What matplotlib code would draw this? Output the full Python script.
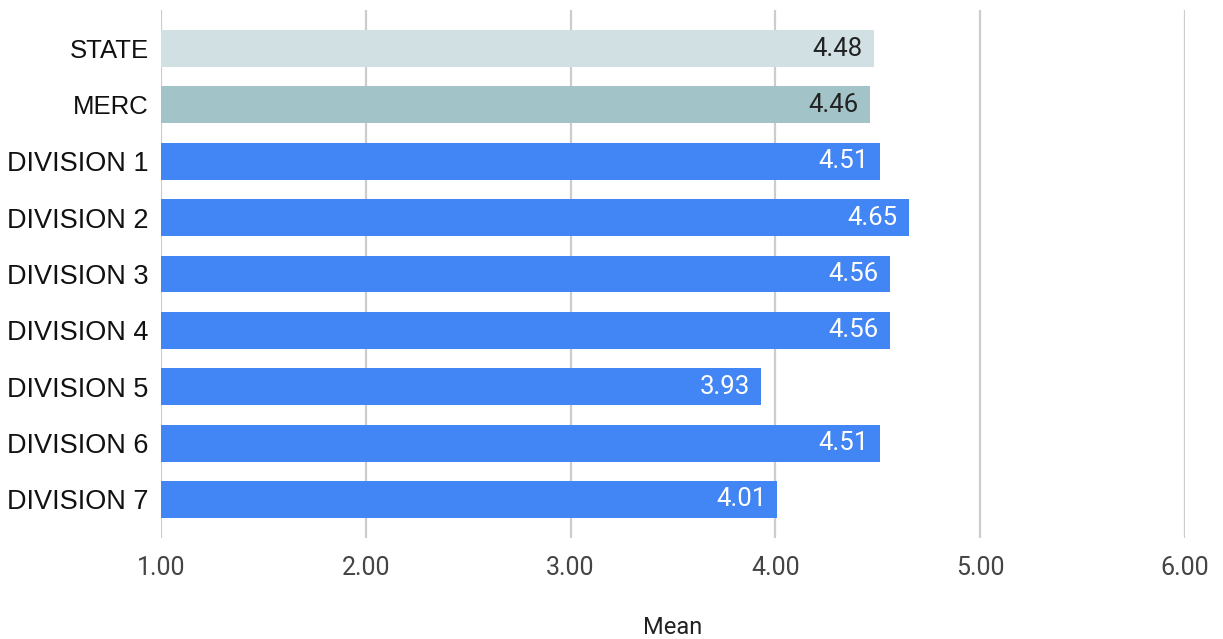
import matplotlib.pyplot as plt

# mean score per group
groups = ["STATE", "MERC", "DIVISION 1", "DIVISION 2", "DIVISION 3",
          "DIVISION 4", "DIVISION 5", "DIVISION 6", "DIVISION 7"]
means = [4.48, 4.46, 4.51, 4.65, 4.56, 4.56, 3.93, 4.51, 4.01]
bar_colors = ["#d0e0e3", "#a2c4c9"] + ["#4285f4"] * 7
text_colors = ["#222222", "#222222"] + ["white"] * 7
x_ticks = [1, 2, 3, 4, 5, 6]

fig = plt.figure(figsize=(12.23, 6.39), dpi=100)
ax = fig.add_axes([161 / 1223, 1 - 538 / 639, 1024 / 1223, 528 / 639])

base = 1.0
ypos = list(range(len(groups)))
ax.barh(ypos, [m - base for m in means], left=base, height=0.656,
        color=bar_colors, zorder=2)

for y, m, tc in zip(ypos, means, text_colors):
    ax.text(m - 0.055, y, f"{m:.2f}", ha="right", va="center",
            fontsize=18.5, family="Roboto", color=tc, zorder=3)

ax.set_xlim(1, 6)
ax.set_ylim(len(groups) - 1 + 0.683, -0.683)

ax.set_xticks(x_ticks)
ax.set_xticklabels([f"{t:.2f}" for t in x_ticks], family="Roboto",
                   fontsize=18, color="#444444")
ax.tick_params(axis="x", length=0, pad=13)

ax.set_yticks(ypos)
ax.set_yticklabels(groups, family="Liberation Sans", color="#111111")
for lbl, g in zip(ax.get_yticklabels(), groups):
    lbl.set_fontsize(18.5 if g in ("STATE", "MERC") else 19.5)
ax.tick_params(axis="y", length=0, pad=9)

ax.grid(axis="x", color="#cccccc", linewidth=1.6, zorder=0)
ax.set_axisbelow(True)
for s in ax.spines.values():
    s.set_visible(False)

ax.set_xlabel("Mean", family="Roboto", fontsize=17, color="#222222",
              labelpad=26)

fig.savefig("out.png", dpi=100)
